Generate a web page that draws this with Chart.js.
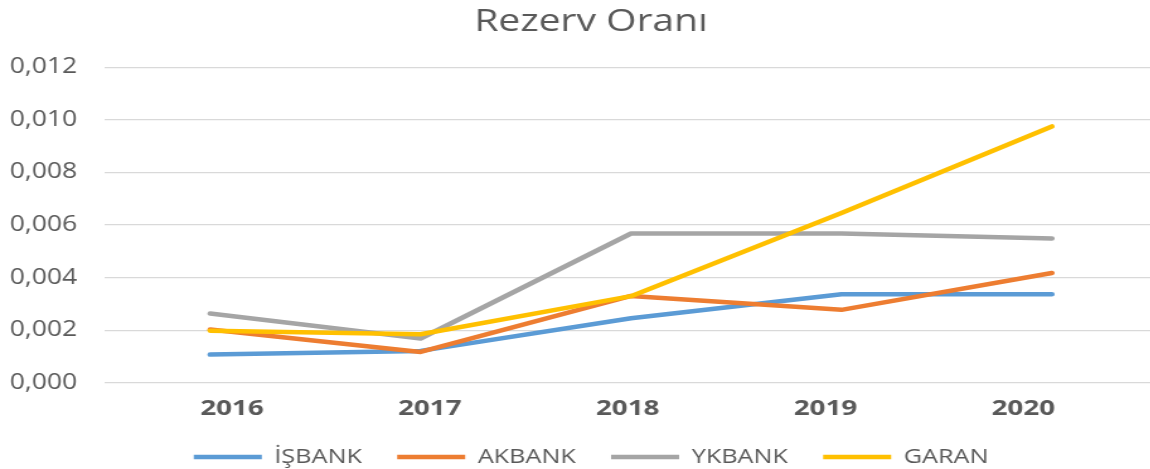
<!DOCTYPE html>
<html lang="tr">
<head>
<meta charset="utf-8">
<title>Rezerv Oranı</title>
<script src="https://cdn.jsdelivr.net/npm/chart.js@4.4.0/dist/chart.umd.min.js"></script>
<style>
  html, body { margin: 0; padding: 0; background: #ffffff; overflow: hidden; }
  /* La imagen original está estirada en horizontal (~1.26x); se reproduce con un scaleX.
     El gráfico ocupa algo más que la ventana y se recorta a la derecha. */
  #wrap {
    position: relative;
    width: 937px;
    height: 469px;
    transform: scaleX(1.26);
    transform-origin: 0 0;
  }
</style>
</head>
<body>
<div id="wrap"><canvas id="chart-rezerv"></canvas></div>
<script>
// --- Datos ---
const years = ['2016', '2017', '2018', '2019', '2020'];
const yTicks = [0, 0.002, 0.004, 0.006, 0.008, 0.010, 0.012];

const isbank = [0.00108, 0.00122, 0.00246, 0.00337, 0.00337];
const akbank = [0.00203, 0.00118, 0.00331, 0.00278, 0.00418];
const ykbank = [0.00264, 0.00169, 0.00568, 0.00568, 0.00549];
const garan = [0.00199, 0.00185, 0.00330, 0.00646, 0.00975];

// --- Estilos comunes ---
const textColor = '#595959';
const gridColor = '#d9d9d9';
const fontFamily = "'Open Sans', sans-serif";

function serie(label, data, color, order) {
  return {
    label,
    data,
    xAxisID: 'x',
    borderColor: color,
    backgroundColor: color,
    borderWidth: 4.5,
    borderCapStyle: 'round',
    borderJoinStyle: 'round',
    pointRadius: 0,
    pointHoverRadius: 0,
    tension: 0,
    fill: false,
    order // la última serie queda encima, como en Excel
  };
}

// Chart.js recorta las etiquetas a la caja de cada eje; aquí se amplía esa caja
// (solo afecta al recorte, no a la posición de las etiquetas)
const unclipLabels = {
  id: 'unclipLabels',
  afterLayout(chart) {
    chart.scales.y.left = 0;
    chart.scales.xLabels.bottom = chart.height;
  }
};

const ctx = document.getElementById('chart-rezerv').getContext('2d');

new Chart(ctx, {
  type: 'line',
  data: {
    labels: years,
    datasets: [
      serie('İŞBANK', isbank, '#5b9bd5', 4),
      serie('AKBANK', akbank, '#ed7d31', 3),
      serie('YKBANK', ykbank, '#a5a5a5', 2),
      serie('GARAN', garan, '#ffc000', 1)
    ]
  },
  plugins: [unclipLabels],
  options: {
    responsive: true,
    maintainAspectRatio: false,
    animation: false,
    devicePixelRatio: 1,
    layout: { padding: { left: 20, right: 18.7, top: 0, bottom: -8 } },
    plugins: {
      title: {
        display: true,
        text: 'Rezerv Oranı',
        color: textColor,
        font: { family: fontFamily, size: 31, weight: 'normal' },
        padding: { top: 4, bottom: 26 }
      },
      legend: {
        position: 'bottom',
        labels: {
          color: textColor,
          font: { family: fontFamily, size: 20 },
          usePointStyle: true,
          pointStyle: 'line',
          pointStyleWidth: 54,
          padding: 28,
          sort: (a, b) => a.datasetIndex - b.datasetIndex
        }
      },
      tooltip: { enabled: false }
    },
    scales: {
      // eje de datos (oculto): los puntos caen en el centro de cada categoría
      x: {
        type: 'category',
        display: false,
        offset: true
      },
      // eje de etiquetas: en la imagen los años están algo más juntos que los puntos
      xLabels: {
        type: 'linear',
        axis: 'x',
        position: 'bottom',
        min: -0.642,
        max: 4.676,
        afterBuildTicks: (scale) => {
          scale.ticks = years.map((_, i) => ({ value: i }));
        },
        afterFit: (scale) => { scale.height = 36; },
        ticks: {
          color: textColor,
          font: { family: fontFamily, size: 22, weight: 'bold' },
          padding: 13,
          autoSkip: false,
          maxRotation: 0,
          callback: (val) => years[val]
        },
        grid: { display: false, drawTicks: false },
        border: { display: false }
      },
      y: {
        min: 0,
        max: 0.012,
        afterBuildTicks: (scale) => {
          scale.ticks = yTicks.map(v => ({ value: v }));
        },
        afterFit: (scale) => { scale.width = 63.3; },
        ticks: {
          color: textColor,
          font: { family: fontFamily, size: 21 },
          padding: 22,
          callback: (val) => val.toFixed(3).replace('.', ',')
        },
        grid: { color: gridColor, lineWidth: 1.3, drawTicks: false },
        border: { display: false }
      }
    }
  }
});
</script>
</body>
</html>
